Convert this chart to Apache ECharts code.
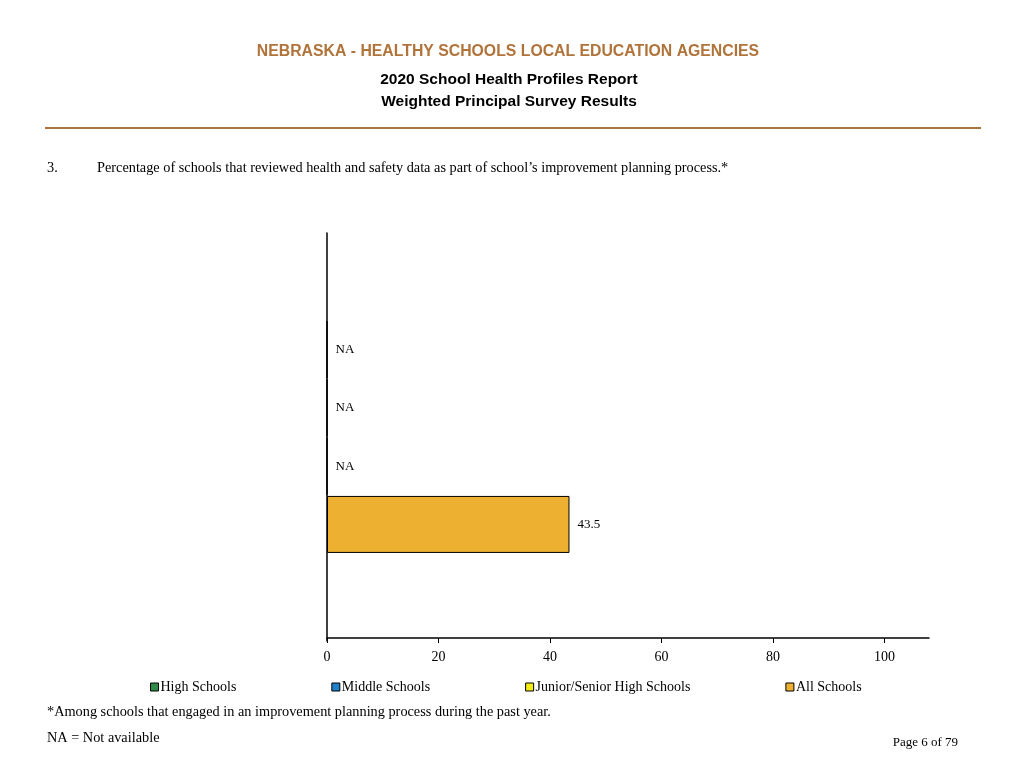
<!DOCTYPE html>
<html>
<head>
<meta charset="utf-8">
<script src="https://cdn.jsdelivr.net/npm/echarts@6/dist/echarts.min.js"></script>
<style>
html,body{margin:0;padding:0;background:#fff;}
#chart{width:1024px;height:768px;}
</style>
</head>
<body>
<div id="chart"></div>
<script>
const categories = ['High Schools', 'Middle Schools', 'Junior/Senior High Schools', 'All Schools'];
const values = [null, null, null, 43.5];
const colors = ['#2E8B45', '#1F80C8', '#F2EE12', '#EDB030'];
const xTicks = [0, 20, 40, 60, 80, 100];
// empty slots above and below the bars on the category axis
const yAxisSlots = ['pad-a', 'pad-b'].concat(categories, ['pad-c', 'pad-d']);

const serif = '"Liberation Serif", "Times New Roman", serif';
const sans = '"Liberation Sans", Arial, sans-serif';

const series = categories.map((name, i) => ({
  name: name,
  type: 'bar',
  barWidth: 57,
  barGap: '-100%',
  itemStyle: { color: colors[i], borderColor: '#000', borderWidth: 1 },
  label: {
    show: true,
    position: 'right',
    distance: 8,
    fontFamily: serif,
    fontSize: 13,
    color: '#000',
    formatter: () => values[i] == null ? 'NA' : values[i].toFixed(1)
  },
  data: [[values[i] == null ? 0 : values[i], name]]
}));

const chart = echarts.init(document.getElementById('chart'));
chart.setOption({
  animation: false,
  backgroundColor: '#fff',
  title: [
    { text: 'NEBRASKA - HEALTHY SCHOOLS LOCAL EDUCATION AGENCIES', left: 503, top: 39, textAlign: 'center',
      textStyle: { fontFamily: sans, fontSize: 15.8, fontWeight: 'bold', color: '#B0733A' } },
    { text: '2020 School Health Profiles Report', left: 504, top: 67, textAlign: 'center',
      textStyle: { fontFamily: sans, fontSize: 15.5, fontWeight: 'bold', color: '#000' } },
    { text: 'Weighted Principal Survey Results', left: 504, top: 89, textAlign: 'center',
      textStyle: { fontFamily: sans, fontSize: 15.5, fontWeight: 'bold', color: '#000' } }
  ],
  graphic: [
    { type: 'line', shape: { x1: 45, y1: 128, x2: 981, y2: 128 }, style: { stroke: '#A8743C', lineWidth: 2 } },
    { type: 'text', left: 47, top: 161, style: { text: '3.', font: '14.3px ' + serif, fill: '#000' } },
    { type: 'text', left: 97, top: 161, style: { text: 'Percentage of schools that reviewed health and safety data as part of school\u2019s improvement planning process.*', font: '14.3px ' + serif, fill: '#000' } },
    { type: 'text', left: 47, top: 705, style: { text: '*Among schools that engaged in an improvement planning process during the past year.', font: '14.3px ' + serif, fill: '#000' } },
    { type: 'text', left: 47, top: 731, style: { text: 'NA = Not available', font: '14.3px ' + serif, fill: '#000' } },
    { type: 'text', right: 66, top: 736, style: { text: 'Page 6 of 79', font: '13px ' + serif, fill: '#000' } }
  ],
  legend: {
    data: categories,
    left: 145,
    top: 675,
    itemWidth: 8,
    itemHeight: 8,
    itemGap: 95,
    icon: 'rect',
    itemStyle: { borderColor: '#000', borderWidth: 1 },
    textStyle: { fontFamily: serif, fontSize: 14, color: '#000', padding: [0, 0, 0, -3] }
  },
  grid: { left: 327, right: 95, top: 233, bottom: 127, containLabel: false },
  xAxis: {
    type: 'value',
    min: 0,
    max: 108,
    interval: 20,
    offset: -3,
    axisLine: { show: true, lineStyle: { color: '#000', width: 1.5 } },
    axisTick: { show: true, length: 5, customValues: xTicks, lineStyle: { color: '#000' } },
    axisLabel: { customValues: xTicks, margin: 12, fontFamily: serif, fontSize: 14, color: '#000' },
    splitLine: { show: false }
  },
  yAxis: {
    type: 'category',
    data: yAxisSlots,
    boundaryGap: false,
    inverse: true,
    axisLine: { show: true, onZero: false, lineStyle: { color: '#000', width: 1.5 } },
    axisTick: { show: false },
    axisLabel: { show: false },
    splitLine: { show: false }
  },
  series: series
});
</script>
</body>
</html>
